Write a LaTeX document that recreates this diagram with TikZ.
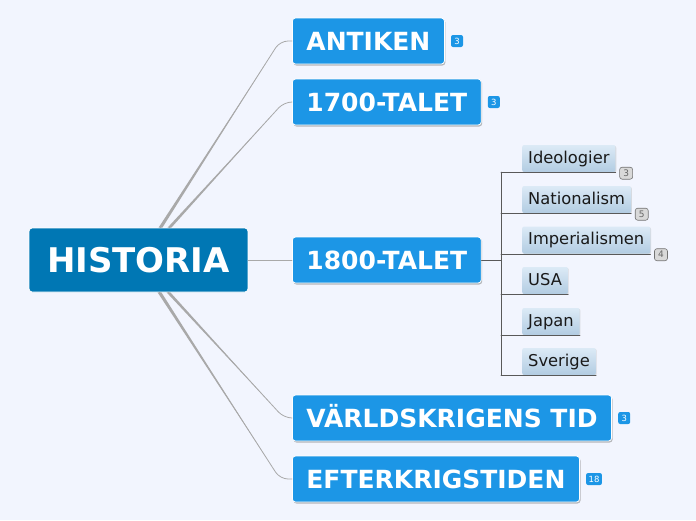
\documentclass[tikz,border=0pt]{standalone}
\usepackage{fontspec}
\setmainfont{DejaVu Sans}
\usetikzlibrary{positioning,shadows,calc}
\definecolor{bgcol}{HTML}{F2F5FE}
\definecolor{rootcol}{HTML}{0077B4}
\definecolor{topiccol}{HTML}{1C96E6}
\definecolor{linecol}{HTML}{A9A9A9}
\definecolor{subtop}{HTML}{DCEAF6}
\definecolor{subbot}{HTML}{B2CCE2}
\tikzset{
  rootbox/.style={fill=rootcol,draw=white,line width=0.8pt,rounded corners=3pt,
    text=white,font=\fontsize{34}{40}\selectfont\bfseries,
    inner xsep=18pt,minimum height=64pt,text height=24.8pt,text depth=0pt},
  topicbox/.style={fill=topiccol,draw=white,line width=0.8pt,rounded corners=3pt,
    text=white,font=\fontsize{25}{30}\selectfont\bfseries,anchor=west,
    inner xsep=14pt,minimum height=46pt,text height=18.2pt,text depth=0pt,
    drop shadow={shadow xshift=1pt,shadow yshift=-1.5pt,fill=black!45,opacity=0.6}},
  subbox/.style={top color=subtop,bottom color=subbot,rounded corners=2pt,
    text=black!90,font=\fontsize{16.3}{19}\selectfont,anchor=west,
    inner xsep=6pt,minimum height=27pt,text height=12pt,text depth=3pt,
    drop shadow={shadow xshift=0.8pt,shadow yshift=-0.8pt,fill=black!30,opacity=0.4}},
  bluetag/.style={fill=topiccol,rounded corners=2pt,text=white,anchor=west,
    font=\fontsize{8.5}{9}\selectfont,inner xsep=2.5pt,inner ysep=1pt,minimum height=12pt,minimum width=12pt},
  graytag/.style={fill=black!15,draw=black!55,line width=0.6pt,rounded corners=2.5pt,
    text=black!60,font=\fontsize{9}{10}\selectfont,inner sep=1pt,minimum height=12pt,minimum width=13pt},
  branch/.style={draw=linecol,line width=0.8pt,rounded corners=8pt},
  subline/.style={draw=black!65,line width=0.9pt},
}
\begin{document}
\begin{tikzpicture}[x=1pt,y=-1pt,line join=round,line cap=round]
\fill[bgcol] (0,0) rectangle (696,520);
\useasboundingbox (0,0) rectangle (696,520);
% main topic and branches
\node[rootbox] (historia) at (138.5,260) {HISTORIA};
\node[topicbox] (antiken) at (292,41) {ANTIKEN};
\node[topicbox] (t1700) at (292,102) {1700-TALET};
\node[topicbox] (t1800) at (292,260) {1800-TALET};
\node[topicbox] (varld) at (292,418) {VÄRLDSKRIGENS TID};
\node[topicbox] (efter) at (292,479) {EFTERKRIGSTIDEN};
\foreach \t/\k in {antiken/3,t1700/3,varld/3,efter/18}{
  \node[bluetag] (tag-\t) at ([xshift=6pt]\t.east) {\k};}
% tapered connectors
\foreach \t/\dx/\a/\cx in {antiken/22/north/280,t1700/31/north/284,varld/30/south/284,efter/21/south/280}{
  \coordinate (s-\t) at ([xshift=\dx pt]historia.\a);
  \path (\cx,0) coordinate (cx-\t);
  \coordinate (k-\t) at (cx-\t |- \t.west);
  \fill[linecol] ([xshift=-1.9pt]s-\t) -- ([xshift=1.9pt]s-\t) -- ($(s-\t)!0.88!(k-\t)$) -- cycle;
  \draw[branch] (s-\t) -- (k-\t) -- (\t.west);
}
\draw[branch] (historia.east) -- (t1800.west);
% subtopics of 1800-TALET
\node[subbox] (ideo) at (522,158.5) {Ideologier};
\node[subbox] (nation) at (522,199.5) {Nationalism};
\node[subbox] (imper) at (522,240) {Imperialismen};
\node[subbox] (usa) at (522,280.5) {USA};
\node[subbox] (japan) at (522,321.5) {Japan};
\node[subbox] (sverige) at (522,361.5) {Sverige};
\coordinate (spine) at (501,0);
\draw[subline] (t1800.east) -- (t1800.east -| spine);
\draw[subline] (ideo.south -| spine) -- (sverige.south -| spine);
\foreach \s in {ideo,nation,imper,usa,japan,sverige}{
  \draw[subline] ([yshift=-0.5pt]\s.south -| spine) -- ([yshift=-0.5pt]\s.south east);}
\foreach \s/\k in {ideo/3,nation/5,imper/4}{
  \node[graytag] (tag-\s) at ([xshift=10.5pt,yshift=-1pt]\s.south east) {\k};}
\end{tikzpicture}
\end{document}
